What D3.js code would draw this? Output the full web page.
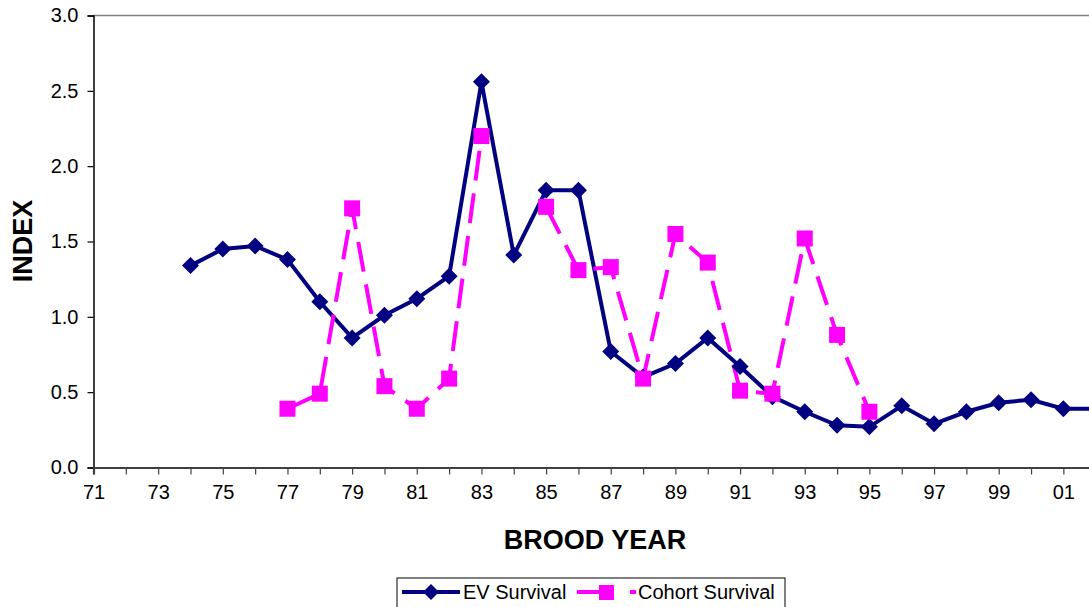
<!DOCTYPE html>
<html>
<head>
<meta charset="utf-8">
<script src="https://cdn.jsdelivr.net/npm/d3@7"></script>
<style>
  body { margin: 0; background: #fff; }
  svg { display: block; font-family: Arial, "Liberation Sans", sans-serif; }
</style>
</head>
<body>
<div id="chart"></div>
<script>
'use strict';

// ------------ DATA ---------------- //

const evYears     = [74, 75, 76, 77, 78, 79, 80, 81, 82, 83, 84, 85, 86, 87, 88, 89, 90, 91, 92, 93, 94, 95, 96, 97, 98, 99, 100, 101, 102];
const evValues    = [1.34, 1.45, 1.47, 1.38, 1.10, 0.86, 1.01, 1.12, 1.27, 2.56, 1.41, 1.84, 1.84, 0.77, 0.60, 0.69, 0.86, 0.67, 0.47, 0.37, 0.28, 0.27, 0.41, 0.29, 0.37, 0.43, 0.45, 0.39, 0.39];

const cohortYears  = [77, 78, 79, 80, 81, 82, 83, 84, 85, 86, 87, 88, 89, 90, 91, 92, 93, 94, 95];
const cohortValues = [0.39, 0.49, 1.72, 0.54, 0.39, 0.59, 2.20, null, 1.73, 1.31, 1.33, 0.59, 1.55, 1.36, 0.51, 0.49, 1.52, 0.88, 0.37];

const xTickLabels = ['71', '73', '75', '77', '79', '81', '83', '85', '87', '89', '91', '93', '95', '97', '99', '01'];
const yTicks      = [0, 0.5, 1.0, 1.5, 2.0, 2.5, 3.0];

const seriesNames = ['EV Survival', 'Cohort Survival'];

// ------------ LAYOUT ---------------- //

const width  = 1089;
const height = 607;
const NAVY   = '#000080';
const PINK   = '#FF00FF';
const FONT   = 'Arial, "Liberation Sans", sans-serif';

const x = d3.scaleLinear().domain([71, 102]).range([93.5, 1095.7]);
const y = d3.scaleLinear().domain([0, 3]).range([467.5, 15.5]);

// diamond marker, as wide as it is tall
const diamondPath = r => `M0,${-r}L${r},0L0,${r}L${-r},0Z`;

const svg = d3.select('#chart')
    .append('svg')
    .attr('width', width)
    .attr('height', height);

// top border of plot area
svg.append('line')
    .attr('x1', x(71)).attr('x2', width)
    .attr('y1', y(3)).attr('y2', y(3))
    .attr('stroke', '#808080')
    .attr('stroke-width', 1.5);

// ------------ AXES ---------------- //

const yAxis = svg.append('g')
    .attr('transform', `translate(${x(71)},0)`)
    .call(d3.axisLeft(y).tickValues(yTicks).tickFormat(d3.format('.1f')).tickSize(6).tickPadding(9));

yAxis.select('.domain').attr('stroke', '#000').attr('stroke-width', 1.5);
yAxis.selectAll('.tick line').attr('stroke', '#000').attr('stroke-width', 1.2);
yAxis.selectAll('text').attr('font-size', 20).attr('fill', '#000').attr('font-family', FONT);

const xAxis = svg.append('g')
    .attr('transform', `translate(0,${y(0)})`)
    .call(d3.axisBottom(x)
        .tickValues(d3.range(71, 103))
        .tickSize(7)
        .tickPadding(10)
        .tickFormat(d => {
            const label = String(d % 100).padStart(2, '0');
            return xTickLabels.includes(label) && d < 102 ? label : '';
        }));

xAxis.select('.domain').attr('stroke', '#404040').attr('stroke-width', 2.2);
xAxis.selectAll('.tick line').attr('stroke', '#404040').attr('stroke-width', 1.2);
xAxis.selectAll('text').attr('font-size', 20).attr('fill', '#000').attr('font-family', FONT);

// axis titles
svg.append('text')
    .attr('x', 595).attr('y', 549)
    .attr('text-anchor', 'middle')
    .attr('font-size', 27).attr('font-weight', 'bold')
    .text('BROOD YEAR');

svg.append('text')
    .attr('transform', 'translate(32,241) rotate(-90)')
    .attr('text-anchor', 'middle')
    .attr('font-size', 27).attr('font-weight', 'bold')
    .text('INDEX');

// ------------ SERIES ---------------- //

const evData     = evYears.map((yr, i) => ({yr, v: evValues[i]}));
const cohortData = cohortYears.map((yr, i) => ({yr, v: cohortValues[i]}));

const line = d3.line()
    .defined(d => d.v !== null)
    .x(d => x(d.yr))
    .y(d => y(d.v));

svg.append('path')
    .datum(evData)
    .attr('d', line)
    .attr('fill', 'none')
    .attr('stroke', NAVY)
    .attr('stroke-width', 4);

svg.append('path')
    .datum(cohortData)
    .attr('d', line)
    .attr('fill', 'none')
    .attr('stroke', PINK)
    .attr('stroke-width', 4)
    .attr('stroke-dasharray', '30,13');

svg.selectAll('.ev-pt')
    .data(evData)
    .enter()
        .append('path')
        .attr('class', 'ev-pt')
        .attr('d', diamondPath(8.5))
        .attr('transform', d => `translate(${x(d.yr)},${y(d.v)})`)
        .attr('fill', NAVY);

svg.selectAll('.co-pt')
    .data(cohortData.filter(d => d.v !== null))
    .enter()
        .append('rect')
        .attr('class', 'co-pt')
        .attr('x', d => x(d.yr) - 8)
        .attr('y', d => y(d.v) - 8)
        .attr('width', 16)
        .attr('height', 16)
        .attr('fill', PINK);

// ------------ LEGEND ---------------- //

const legend = svg.append('g');

legend.append('rect')
    .attr('x', 397).attr('y', 578)
    .attr('width', 388).attr('height', 40)
    .attr('fill', '#fff')
    .attr('stroke', '#000')
    .attr('stroke-width', 1);

legend.append('line')
    .attr('x1', 402).attr('x2', 460)
    .attr('y1', 592).attr('y2', 592)
    .attr('stroke', NAVY).attr('stroke-width', 4);

legend.append('path')
    .attr('d', diamondPath(8))
    .attr('transform', 'translate(431,592)')
    .attr('fill', NAVY);

legend.append('text')
    .attr('x', 463).attr('y', 599)
    .attr('font-size', 20)
    .text(seriesNames[0]);

legend.append('line')
    .attr('x1', 577).attr('x2', 605)
    .attr('y1', 592).attr('y2', 592)
    .attr('stroke', PINK).attr('stroke-width', 4);

legend.append('rect')
    .attr('x', 599).attr('y', 585)
    .attr('width', 15).attr('height', 15)
    .attr('fill', PINK);

legend.append('line')
    .attr('x1', 630).attr('x2', 636)
    .attr('y1', 592).attr('y2', 592)
    .attr('stroke', PINK).attr('stroke-width', 4);

legend.append('text')
    .attr('x', 638).attr('y', 599)
    .attr('font-size', 20)
    .text(seriesNames[1]);
</script>
</body>
</html>
